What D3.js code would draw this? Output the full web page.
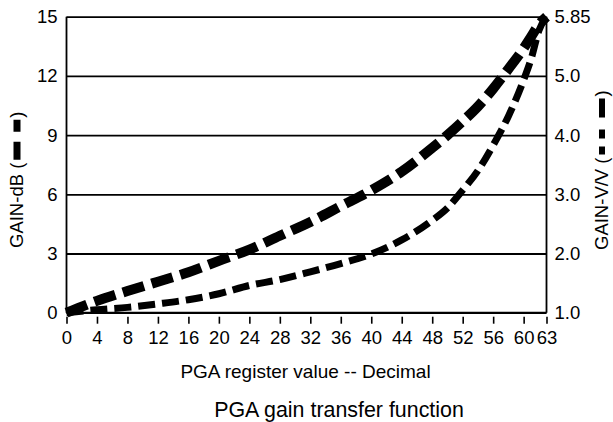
<!DOCTYPE html>
<html><head><meta charset="utf-8">
<script src="https://cdn.jsdelivr.net/npm/d3@7"></script>
<style>body{margin:0;background:#fff}svg{display:block}</style>
</head><body><svg id="c" width="613" height="422"></svg>
<script>
// ---- data ----
const registers = [0,4,8,12,16,20,24,28,32,36,40,44,48,50,52,54,56,58,60,61,62,63];
const gainDb    = [0,0.6,1.1,1.57,2.05,2.63,3.2,3.9,4.6,5.4,6.2,7.15,8.35,9.0,9.7,10.45,11.35,12.35,13.4,14.0,14.6,15];
const gainVV    = [1.0,1.05,1.09,1.15,1.22,1.32,1.46,1.56,1.69,1.83,1.99,2.23,2.56,2.77,3.07,3.4,3.83,4.32,4.93,5.25,5.65,5.85];
const xTicks = [0,4,8,12,16,20,24,28,32,36,40,44,48,52,56,60,63];
const dbTicks = [0,3,6,9,12,15];
const vvTicks = [1.0,2.0,3.0,4.0,5.0,5.85];
const vvTickLabels = ["1.0","2.0","3.0","4.0","5.0","5.85"];
const xTitle = "PGA register value -- Decimal";
const chartTitle = "PGA gain transfer function";
const leftLabel = "GAIN-dB (";
const rightLabel = "GAIN-V/V (";

// ---- layout ----
const FONT = "'Liberation Sans', Arial, sans-serif";
const TFS = 18.5;
const L = 66.5, R = 546.5, T = 16.7, B = 312.7;
const svg = d3.select("#c");
const x = d3.scaleLinear().domain([0,63]).range([L,R]);
const y = d3.scaleLinear().domain([0,15]).range([B,T]);
const yR = d3.scaleLinear().domain(vvTicks).range(dbTicks.map(d=>y(d)));

// gridlines + left axis labels
const gl = svg.append("g").attr("transform",`translate(${L},0)`)
  .call(d3.axisLeft(y).tickValues(dbTicks).tickSize(-(R-L)).tickPadding(9).tickFormat(d3.format("d")));
gl.select(".domain").remove();
gl.selectAll(".tick line").attr("stroke","#000").attr("stroke-width",1.8);
gl.selectAll(".tick text").attr("font-family",FONT).attr("font-size",TFS).attr("fill","#000");

// right axis labels
const gr = svg.append("g").attr("transform",`translate(${R},0)`)
  .call(d3.axisRight(yR).tickValues(vvTicks).tickSize(0).tickPadding(8).tickFormat((d,i)=>vvTickLabels[i]));
gr.select(".domain").remove();
gr.selectAll(".tick text").attr("font-family",FONT).attr("font-size",TFS).attr("fill","#000");

// bottom axis
const gb = svg.append("g").attr("transform",`translate(0,${B})`)
  .call(d3.axisBottom(x).tickValues(xTicks).tickSize(0).tickPadding(18).tickFormat(d3.format("d")));
gb.select(".domain").remove();
gb.selectAll(".tick line").attr("y1",4).attr("y2",11).attr("stroke","#000").attr("stroke-width",1.6);
gb.selectAll(".tick text").attr("font-family",FONT).attr("font-size",TFS).attr("fill","#000");

// frame axes
svg.append("line").attr("x1",L).attr("x2",L).attr("y1",T).attr("y2",B).attr("stroke","#000").attr("stroke-width",1.8);
svg.append("line").attr("x1",R).attr("x2",R).attr("y1",T).attr("y2",B).attr("stroke","#000").attr("stroke-width",1.8);
svg.append("line").attr("x1",L).attr("x2",R).attr("y1",B).attr("y2",B).attr("stroke","#000").attr("stroke-width",1.8);

// curves
const vvLine = d3.line().x((d,i)=>x(registers[i])).y(d=>yR(d)).curve(d3.curveMonotoneX);
const dbLine = d3.line().x((d,i)=>x(registers[i])).y(d=>y(d)).curve(d3.curveMonotoneX);
svg.append("path").datum(gainVV).attr("d",vvLine).attr("fill","none")
  .attr("stroke","#000").attr("stroke-width",7).attr("stroke-dasharray","17,7");
svg.append("path").datum(gainDb).attr("d",dbLine).attr("fill","none")
  .attr("stroke","#000").attr("stroke-width",10).attr("stroke-dasharray","22,8");

// titles
svg.append("text").attr("x",305.5).attr("y",378).attr("text-anchor","middle")
  .attr("font-family",FONT).attr("font-size",19).text(xTitle);
svg.append("text").attr("x",339).attr("y",417).attr("text-anchor","middle")
  .attr("font-family",FONT).attr("font-size",21.4).text(chartTitle);

// rotated axis labels with embedded dash sample
function sideLabel(cx, bottom, label, dashW, dashArr, dashLen, fs){
  const g = svg.append("g").attr("transform",`translate(${cx},${bottom}) rotate(-90)`);
  const t = g.append("text").attr("x",0).attr("y",0).attr("dy","0.35em")
    .attr("font-family",FONT).attr("font-size",fs).text(label);
  const w = t.node().getComputedTextLength();
  const s = w + 3;
  g.append("line").attr("x1",s).attr("x2",s+dashLen).attr("y1",0).attr("y2",0)
    .attr("stroke","#000").attr("stroke-width",dashW).attr("stroke-dasharray",dashArr);
  g.append("text").attr("x",s+dashLen+2).attr("y",0).attr("dy","0.35em")
    .attr("font-family",FONT).attr("font-size",fs).text(")");
}
sideLabel(17, 248, leftLabel, 7, "18,10,12", 40, 18.5);
sideLabel(602, 250, rightLabel, 6, "8,8,9,12,19", 56, 18.5);
</script></body></html>
